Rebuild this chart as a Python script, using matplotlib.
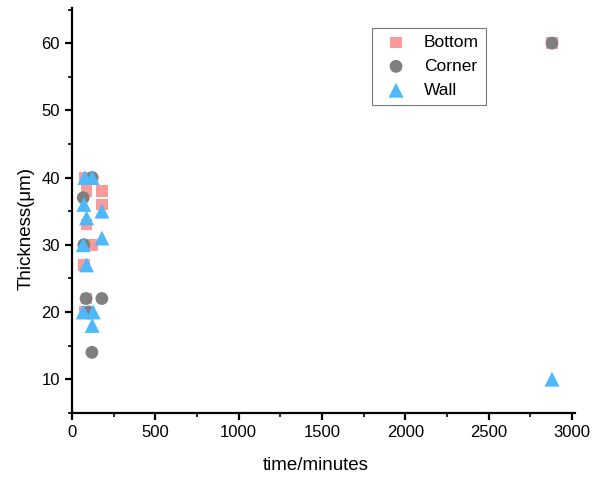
import numpy as np
import matplotlib.pyplot as plt
from matplotlib.ticker import MultipleLocator

plt.rcParams['font.family'] = ['Liberation Sans', 'DejaVu Sans']

# Bottom
bottom_t = [80, 88, 180, 180, 88, 120, 72, 88, 75, 2880]
bottom_v = [40, 38, 38, 36, 33, 30, 27, 22, 20, 60]

# Corner
corner_t = [122, 68, 72, 85, 180, 100, 120, 2880]
corner_v = [40, 37, 30, 22, 22, 20, 14, 60]

# Wall
wall_t = [78, 122, 72, 88, 180, 180, 68, 88, 68, 128, 122, 2880]
wall_v = [40, 40, 36, 34, 35, 31, 30, 27, 20, 20, 18, 10]

fig = plt.figure(figsize=(5.94, 4.8), dpi=100)
ax = fig.add_axes([0.121, 0.14, 0.847, 0.843])

ax.scatter(bottom_t, bottom_v, marker='s', s=70, color='#F99B9B', edgecolors='none', label='Bottom', zorder=3)
ax.scatter(corner_t, corner_v, marker='o', s=85, color='#7F7F7F', edgecolors='none', label='Corner', zorder=4)
ax.scatter(wall_t, wall_v, marker='^', s=115, color='#4DB8FA', edgecolors='none', label='Wall', zorder=5)

ax.set_xlim(0, 3018)
ax.set_ylim(5, 65.2)
ax.xaxis.set_major_locator(MultipleLocator(500))
ax.xaxis.set_minor_locator(MultipleLocator(250))
ax.yaxis.set_major_locator(MultipleLocator(10))
ax.yaxis.set_minor_locator(MultipleLocator(5))

for s in ['top', 'right']:
    ax.spines[s].set_visible(False)
for s in ['left', 'bottom']:
    ax.spines[s].set_linewidth(1.6)
ax.tick_params(which='major', direction='out', length=5, width=1.6, labelsize=12)
ax.tick_params(which='minor', direction='out', length=3, width=1.2)

ax.set_xlabel('time/minutes', fontsize=13.5)
ax.set_ylabel('Thickness(\u03bcm)', fontsize=13.5)
ax.xaxis.set_label_coords(0.485, -0.108)
ax.yaxis.set_label_coords(-0.075, 0.455)

leg = ax.legend(loc='upper left', bbox_to_anchor=(0.596, 0.951), fontsize=12.5,
                frameon=True, fancybox=False, edgecolor='#555555',
                handletextpad=0.6, borderpad=0.4, labelspacing=0.5,
                borderaxespad=0)
leg.get_frame().set_linewidth(0.8)

fig.savefig('out.png', dpi=100)
